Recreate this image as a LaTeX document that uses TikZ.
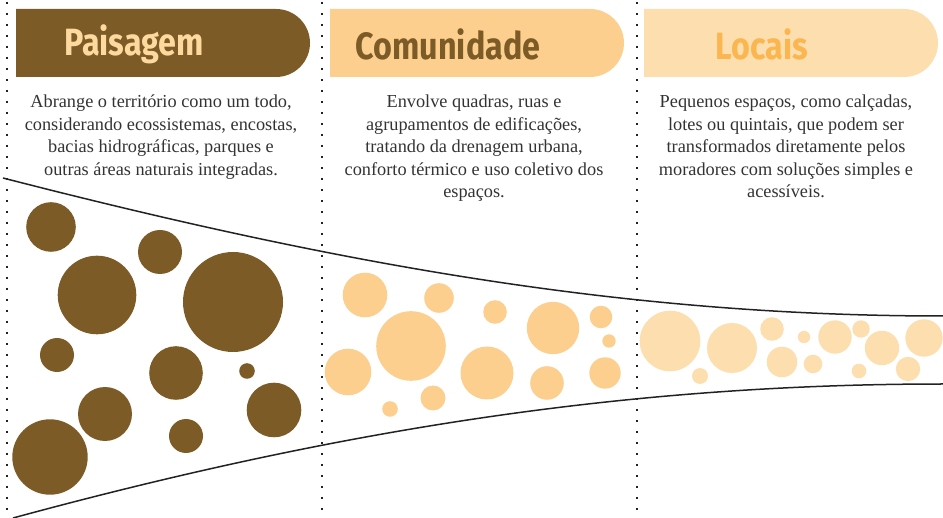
\documentclass[tikz,border=0pt]{standalone}
\usepackage{fontspec}
\setmainfont{Liberation Serif}
\newfontfamily\hdrfont[FakeStretch=0.85]{Fira Sans Bold}
\usetikzlibrary{shapes.misc}
\definecolor{brn}{HTML}{7C5B27}
\definecolor{comfill}{HTML}{FCCF8E}
\definecolor{locfill}{HTML}{FDDFAF}
\definecolor{loctext}{HTML}{FBB650}
\definecolor{paitext}{HTML}{FDD99E}
\definecolor{bodytext}{HTML}{333333}
\definecolor{ln}{HTML}{222222}
\tikzset{
  hdrbox/.style={rounded rectangle, rounded rectangle left arc=none, minimum width=294pt, minimum height=68pt, inner sep=0pt},
  hdrlabel/.style={font=\hdrfont\fontsize{38}{40}\selectfont, inner sep=0pt},
  bodylabel/.style={font=\fontsize{18.3}{22.4}\selectfont, align=center, text=bodytext, anchor=north, inner sep=0pt},
  divider/.style={ln, line width=1.8pt, dash pattern=on 1.8pt off 9.2pt},
  funnel/.style={ln, line width=1.5pt},
}
\begin{document}
\begin{tikzpicture}[x=1pt,y=-1pt]
\useasboundingbox (0,0) rectangle (943,518);
% dividers
\draw[divider] (7,2) -- (7,518);
\draw[divider] (322,2) -- (322,518);
\draw[divider] (637,2) -- (637,518);
% headers
\node[hdrbox, fill=brn] (h1) at (163,43) {};
\node[hdrlabel, text=paitext] (t1) at (134,44) {Paisagem};
\node[hdrbox, fill=comfill] (h2) at (477,43) {};
\node[hdrlabel, text=brn] (t2) at (448,44) {Comunidade};
\node[hdrbox, fill=locfill] (h3) at (791,43) {};
\node[hdrlabel, text=loctext] (t3) at (762,44) {Locais};
% body texts
\node[bodylabel] (b1) at (161,95) {Abrange o território como um todo,\\considerando ecossistemas, encostas,\\bacias hidrográficas, parques e\\outras áreas naturais integradas.};
\node[bodylabel] (b2) at (474,95) {Envolve quadras, ruas e\\agrupamentos de edificações,\\tratando da drenagem urbana,\\conforto térmico e uso coletivo dos\\espaços.};
\node[bodylabel] (b3) at (786,95) {Pequenos espaços, como calçadas,\\lotes ou quintais, que podem ser\\transformados diretamente pelos\\moradores com soluções simples e\\acessíveis.};
% funnel
\draw[funnel] (3,178) .. controls (330,262) and (620,316) .. (943,316);
\draw[funnel] (13,518) .. controls (330,432) and (620,384) .. (943,384);
% Paisagem circles
\foreach \x/\y/\r in {51/227/24.8, 160/252/22, 97/295/39.3, 233/302/50, 57/355/17, 176/373/26.8, 247/371/7.8, 105/414/27, 274/410/27.3, 186/436/17, 50/457/37.7}
  \fill[brn] (\x,\y) circle[radius=\r];
% Comunidade circles
\foreach \x/\y/\r in {365/295/22.3, 439/298/14.8, 411/346/34.8, 495/312/11.8, 553/328/26.2, 601/317/11.3, 609/341/6.7, 348/372/23.3, 487/373/26.5, 547/383/16.8, 605/373/15.7, 433/398/12.5, 390/409/7.8}
  \fill[comfill] (\x,\y) circle[radius=\r];
% Locais circles
\foreach \x/\y/\r in {670/341/30.3, 732/348/25, 772/329/11.8, 782/362/15.3, 700/376/8, 804/337/6.2, 813/364/9.3, 835/337/16.7, 861/329/8.7, 882/348/17.2, 859/371/7.3, 908/369/12.2, 924/338/18.7}
  \fill[locfill] (\x,\y) circle[radius=\r];
\end{tikzpicture}
\end{document}
